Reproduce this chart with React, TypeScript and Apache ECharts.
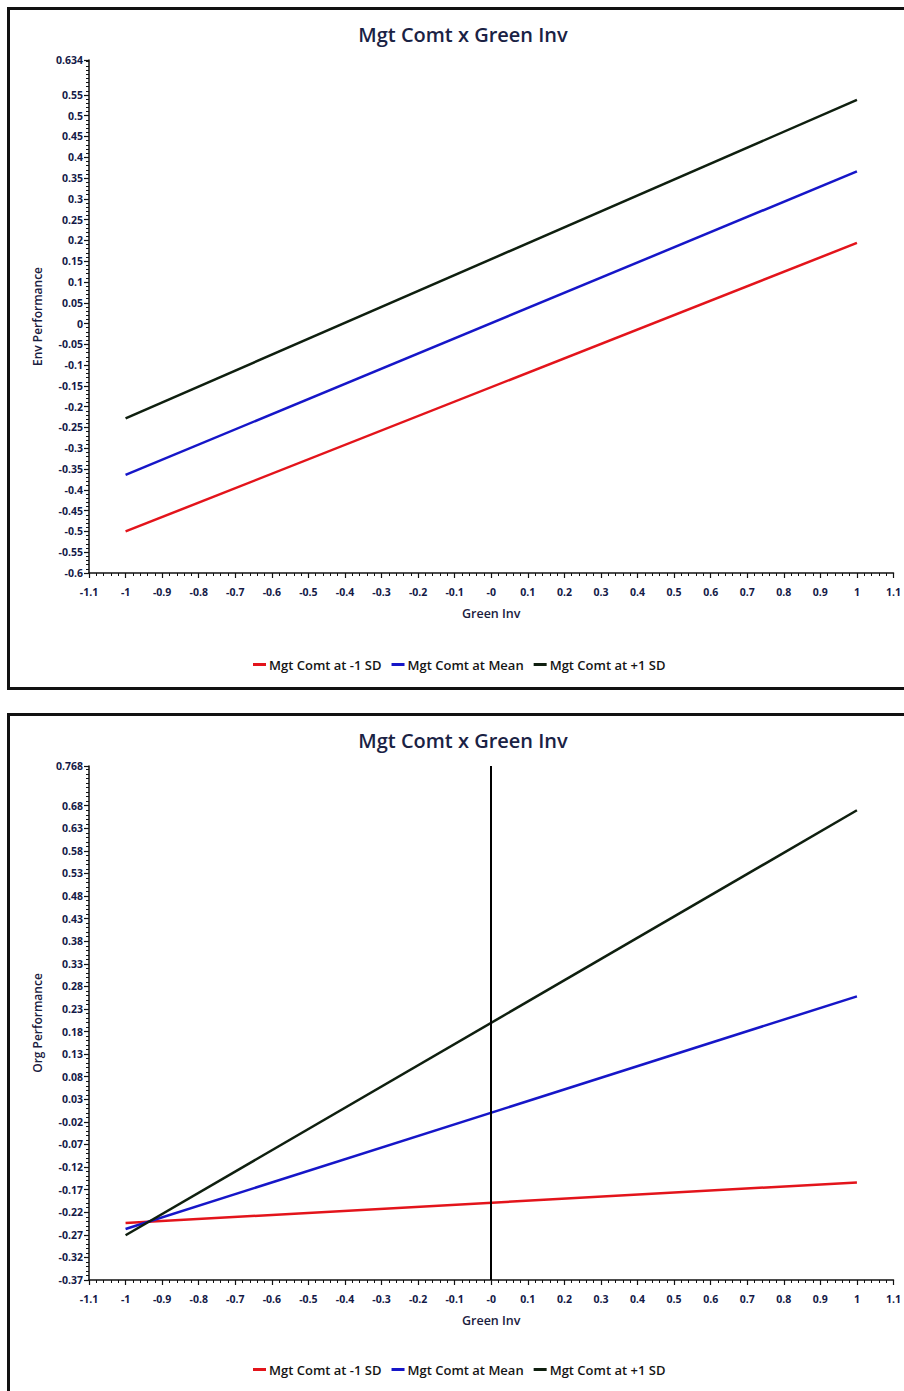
import React, { useEffect, useRef } from "react";
import * as echarts from "echarts";

const title = "Mgt Comt x Green Inv";
const seriesNames = ["Mgt Comt at -1 SD", "Mgt Comt at Mean", "Mgt Comt at +1 SD"];
const seriesColors = ["#e3141b", "#1616c8", "#0f1f0f"];

const greenInv = [-1, 1];
const envLow = [-0.5, 0.194];
const envMean = [-0.364, 0.366];
const envHigh = [-0.228, 0.538];
const orgLow = [-0.244, -0.154];
const orgMean = [-0.257, 0.258];
const orgHigh = [-0.271, 0.67];

const xTicks = [-1.1, -1, -0.9, -0.8, -0.7, -0.6, -0.5, -0.4, -0.3, -0.2, -0.1, 0, 0.1, 0.2, 0.3, 0.4, 0.5, 0.6, 0.7, 0.8, 0.9, 1, 1.1];
const envYTicks = [-0.6, -0.55, -0.5, -0.45, -0.4, -0.35, -0.3, -0.25, -0.2, -0.15, -0.1, -0.05, 0, 0.05, 0.1, 0.15, 0.2, 0.25, 0.3, 0.35, 0.4, 0.45, 0.5, 0.55, 0.634];
const orgYTicks = [-0.37, -0.32, -0.27, -0.22, -0.17, -0.12, -0.07, -0.02, 0.03, 0.08, 0.13, 0.18, 0.23, 0.28, 0.33, 0.38, 0.43, 0.48, 0.53, 0.58, 0.63, 0.68, 0.768];

const steps = (a: number, b: number, s: number) => {
  const out: number[] = [];
  const n = Math.round((b - a) / s);
  for (let i = 0; i <= n; i++) out.push(Math.round((a + i * s) * 10000) / 10000);
  return out;
};

const FONT = "'Open Sans', 'Noto Sans', sans-serif";
const labelColor = "#141a48";

export default function App() {
  const ref = useRef<HTMLDivElement>(null);
  useEffect(() => {
    if (!ref.current) return;
    const chart = echarts.init(ref.current, null, { renderer: "svg" });

    const grids = [
      { left: 89, top: 60, width: 807, height: 513 },
      { left: 89, top: 766, width: 807, height: 514 },
    ];
    const yDefs = [
      { ticks: envYTicks, min: -0.6, max: 0.634, name: "Env Performance" },
      { ticks: orgYTicks, min: -0.37, max: 0.768, name: "Org Performance" },
    ];

    const xAxis: any[] = [];
    const yAxis: any[] = [];
    grids.forEach((g, gi) => {
      xAxis.push({
        type: "value",
        gridIndex: gi,
        position: "bottom",
        min: -1.1,
        max: 1.1,
        name: "Green Inv",
        nameLocation: "middle",
        nameGap: 34,
        nameTextStyle: { fontFamily: FONT, fontSize: 12.5, fontWeight: 600, color: "#1a2040" },
        axisLine: { show: true, onZero: false, lineStyle: { color: "#111", width: 1.5 } },
        axisTick: { show: true, customValues: xTicks, length: 5, lineStyle: { color: "#111", width: 1.2 } },
        axisLabel: {
          customValues: xTicks,
          margin: 13,
          fontFamily: FONT,
          fontSize: 10.5,
          fontWeight: 700,
          color: labelColor,
          formatter: (v: number) => (Math.abs(v) < 1e-9 ? "-0" : String(Math.round(v * 10) / 10)),
        },
        splitLine: { show: false },
      });
      xAxis.push({
        type: "value",
        gridIndex: gi,
        position: "bottom",
        min: -1.1,
        max: 1.1,
        axisLine: { show: false, onZero: false },
        axisTick: { show: true, customValues: steps(-1.1, 1.1, 0.02), length: 3, lineStyle: { color: "#111", width: 1 } },
        axisLabel: { show: false },
        splitLine: { show: false },
      });
      const yd = yDefs[gi];
      yAxis.push({
        type: "value",
        gridIndex: gi,
        position: "left",
        min: yd.min,
        max: yd.max,
        name: yd.name,
        nameLocation: "middle",
        nameGap: 46,
        nameRotate: 90,
        nameTextStyle: { fontFamily: FONT, fontSize: 12, fontWeight: 600, color: "#1a2040" },
        axisLine: { show: true, onZero: false, lineStyle: { color: "#111", width: 1.5 } },
        axisTick: { show: true, customValues: yd.ticks, length: 5, lineStyle: { color: "#111", width: 1.2 } },
        axisLabel: {
          customValues: yd.ticks,
          margin: 6,
          fontFamily: FONT,
          fontSize: 10.5,
          fontWeight: 700,
          color: labelColor,
          formatter: (v: number) => String(v),
        },
        splitLine: { show: false },
      });
      yAxis.push({
        type: "value",
        gridIndex: gi,
        position: "left",
        min: yd.min,
        max: yd.max,
        axisLine: { show: false, onZero: false },
        axisTick: { show: true, customValues: steps(yd.ticks[0], yd.max - 0.005, 0.01), length: 3, lineStyle: { color: "#111", width: 1 } },
        axisLabel: { show: false },
        splitLine: { show: false },
      });
    });

    const dataSets = [
      [envLow, envMean, envHigh],
      [orgLow, orgMean, orgHigh],
    ];
    const series: any[] = [];
    dataSets.forEach((set, gi) => {
      set.forEach((vals, si) => {
        series.push({
          type: "line",
          name: seriesNames[si],
          xAxisIndex: gi * 2,
          yAxisIndex: gi * 2,
          data: greenInv.map((x, i) => [x, vals[i]]),
          showSymbol: false,
          symbol: "none",
          lineStyle: { color: seriesColors[si], width: 2.5 },
          itemStyle: { color: seriesColors[si] },
          z: 3,
        });
      });
    });
    series.push({
      type: "line",
      name: "zero",
      xAxisIndex: 2,
      yAxisIndex: 2,
      data: [],
      markLine: {
        silent: true,
        symbol: "none",
        label: { show: false },
        lineStyle: { color: "#000", width: 2, type: "solid" },
        data: [{ xAxis: 0 }],
      },
    });

    const legendCommon = {
      icon: "rect",
      itemWidth: 13,
      itemHeight: 3,
      itemGap: 10,
      data: seriesNames,
      textStyle: { fontFamily: FONT, fontSize: 13, fontWeight: 600, color: "#151515", padding: [0, 0, 0, -2] },
    };

    chart.setOption({
      animation: false,
      backgroundColor: "#ffffff",
      title: [
        { text: title, left: 458, textAlign: "center", top: 19, textStyle: { fontFamily: FONT, fontSize: 20, fontWeight: 600, color: "#1a2244" } },
        { text: title, left: 458, textAlign: "center", top: 725, textStyle: { fontFamily: FONT, fontSize: 20, fontWeight: 600, color: "#1a2244" } },
      ],
      legend: [
        { ...legendCommon, top: 653, left: 248 },
        { ...legendCommon, top: 1358, left: 248 },
      ],
      grid: grids,
      xAxis,
      yAxis,
      series,
      graphic: [
        { type: "rect", shape: { x: 8.5, y: 8.5, width: 1000, height: 680 }, style: { fill: "none", stroke: "#111", lineWidth: 3 }, z: 100 },
        { type: "rect", shape: { x: 8.5, y: 714.5, width: 1000, height: 800 }, style: { fill: "none", stroke: "#111", lineWidth: 3 }, z: 100 },
      ],
    });
    return () => chart.dispose();
  }, []);
  return <div ref={ref} style={{ position: "absolute", left: 0, top: 0, width: 904, height: 1391 }} />;
}
